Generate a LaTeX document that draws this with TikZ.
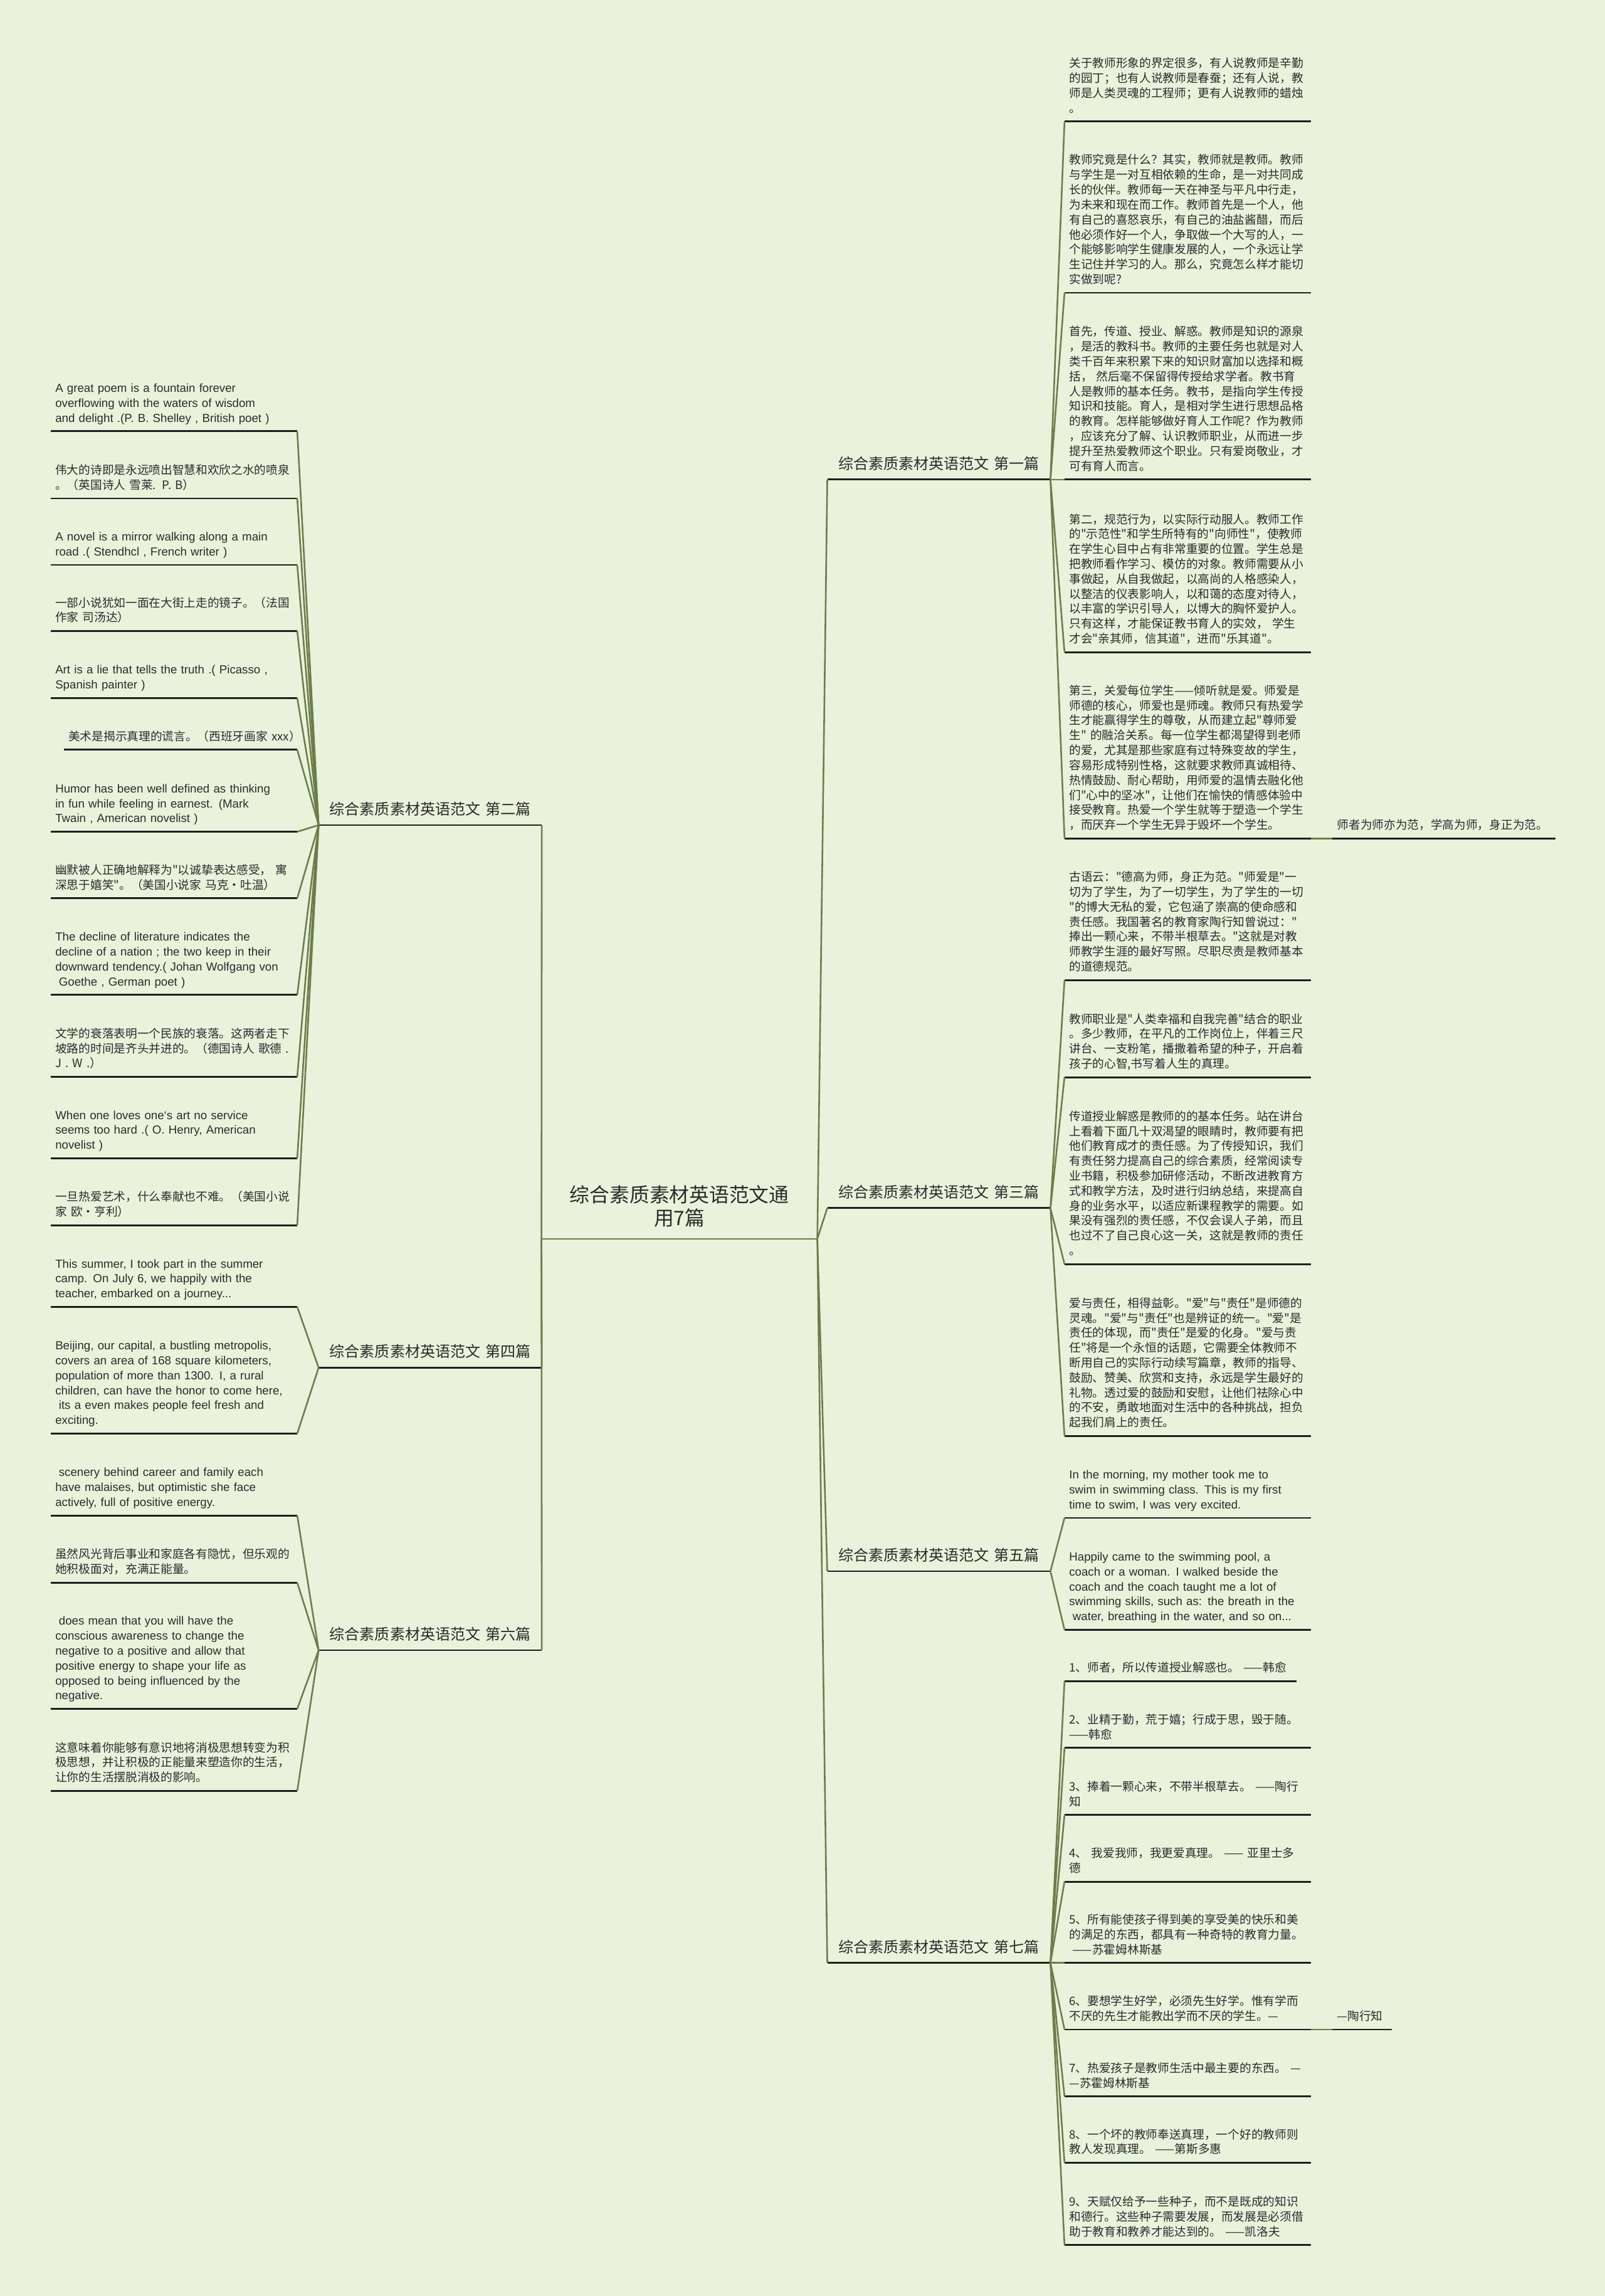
\documentclass[tikz,border=0pt]{standalone}
\usepackage{fontspec}
\setmainfont{Noto Sans CJK SC}[Ligatures=TeXOff]
\newfontfamily\enfont{Liberation Sans}
\definecolor{bgc}{HTML}{E8F3DC}
\definecolor{linkc}{HTML}{6B7D4A}
\definecolor{rulec}{HTML}{1E1E1E}
\definecolor{txtc}{HTML}{2B2B2B}
\begin{document}
\begin{tikzpicture}[x=1pt,y=-1pt,
  rule/.style={draw=rulec, line width=1.2pt},
  link/.style={draw=linkc, line width=1.1pt},
  root/.style={anchor=south, text width=176pt, align=center, inner xsep=6pt, inner ysep=4pt,
    text=txtc, font=\fontsize{13.6}{16}\selectfont, execute at end node=\strut,
    append after command={(\tikzlastnode.south west) edge[link] (\tikzlastnode.south east)}},
  branch/.style={text width=140pt, align=center, inner xsep=6pt, inner ysep=3pt,
    text=txtc, font=\fontsize{10.3}{13}\selectfont, execute at end node=\strut,
    append after command={(\tikzlastnode.south west) edge[rule] (\tikzlastnode.south east)}},
  leaf/.style={anchor=south west, text width=162pt, align=left, inner xsep=3pt, inner ysep=3pt,
    text=txtc, font=\fontsize{8}{10.2}\selectfont, execute at end node=\strut,
    append after command={(\tikzlastnode.south west) edge[rule] (\tikzlastnode.south east)}},
  leafl/.style={leaf, anchor=south east},
  en/.style={font=\enfont\fontsize{8}{10.2}\selectfont}]
\fill[bgc] (0,0) rectangle (1096,1568);
\useasboundingbox (0,0) rectangle (1096,1568);

% centre
\node[root] (root) at (464,846) {综合素质素材英语范文通\\用7篇};

% branches
\node[branch, anchor=south west] (b1) at (565,327.5) {综合素质素材英语范文 第一篇};
\node[branch, anchor=south west] (b3) at (565,825) {综合素质素材英语范文 第三篇};
\node[branch, anchor=south west] (b5) at (565,1073) {综合素质素材英语范文 第五篇};
\node[branch, anchor=south west] (b7) at (565,1340.5) {综合素质素材英语范文 第七篇};
\node[branch, anchor=south east] (b2) at (370,563.5) {综合素质素材英语范文 第二篇};
\node[branch, anchor=south east] (b4) at (370,934) {综合素质素材英语范文 第四篇};
\node[branch, anchor=south east] (b6) at (370,1127) {综合素质素材英语范文 第六篇};

% left leaves, 第二篇
\node[leafl, en] (l1) at (203,294.5) {A great poem is a fountain forever\\overflowing with the waters of wisdom\\and delight .(P. B. Shelley , British poet )};
\node[leafl] (l2) at (203,340.4) {伟大的诗即是永远喷出智慧和欢欣之水的喷泉\\。（英国诗人~雪莱. P. B）};
\node[leafl, en] (l3) at (203,385.8) {A novel is a mirror walking along a main\\road .( Stendhcl , French writer )};
\node[leafl] (l4) at (203,431) {一部小说犹如一面在大街上走的镜子。（法国\\作家~司汤达）};
\node[leafl, en] (l5) at (203,476.7) {Art is a lie that tells the truth .( Picasso ,\\Spanish painter )};
\node[leafl, text width=153pt] (l6) at (203,512) {美术是揭示真理的谎言。（西班牙画家~xxx）};
\node[leafl, en] (l7) at (203,568) {Humor has been well defined as thinking\\in fun while feeling in earnest. (Mark\\Twain , American novelist )};
\node[leafl] (l8) at (203,613.5) {幽默被人正确地解释为"以诚挚表达感受，~寓\\深思于嬉笑"。（美国小说家~马克·吐温）};
\node[leafl, en] (l9) at (203,679.4) {The decline of literature indicates the\\decline of a nation ; the two keep in their\\downward tendency.( Johan Wolfgang von\\\hspace*{0.3em}Goethe , German poet )};
\node[leafl] (l10) at (203,735.4) {文学的衰落表明一个民族的衰落。这两者走下\\坡路的时间是齐头并进的。（德国诗人~歌德~.\\J . W .）};
\node[leafl, en] (l11) at (203,791) {When one loves one‘s art no service\\seems too hard .( O. Henry, American\\novelist )};
\node[leafl] (l12) at (203,836.7) {一旦热爱艺术，什么奉献也不难。（美国小说\\家~欧·亨利）};

% left leaves, 第四篇
\node[leafl, en] (l13) at (203,892.5) {This summer, I took part in the summer\\camp. On July 6, we happily with the\\teacher, embarked on a journey...};
\node[leafl, en] (l14) at (203,979) {Beijing, our capital, a bustling metropolis,\\covers an area of 168 square kilometers,\\population of more than 1300. I, a rural\\children, can have the honor to come here,\\\hspace*{0.3em}its a even makes people feel fresh and\\exciting.};

% left leaves, 第六篇
\node[leafl, en] (l15) at (203,1035) {\hspace*{0.3em}scenery behind career and family each\\have malaises, but optimistic she face\\actively, full of positive energy.};
\node[leafl] (l16) at (203,1080.8) {虽然风光背后事业和家庭各有隐忧，但乐观的\\她积极面对，充满正能量。};
\node[leafl, en] (l17) at (203,1167) {\hspace*{0.3em}does mean that you will have the\\conscious awareness to change the\\negative to a positive and allow that\\positive energy to shape your life as\\opposed to being influenced by the\\negative.};
\node[leafl] (l18) at (203,1223) {这意味着你能够有意识地将消极思想转变为积\\极思想，并让积极的正能量来塑造你的生活，\\让你的生活摆脱消极的影响。};

% right leaves, 第一篇
\node[leaf] (r1) at (727,83) {关于教师形象的界定很多，有人说教师是辛勤\\的园丁；也有人说教师是春蚕；还有人说，教\\师是人类灵魂的工程师；更有人说教师的蜡烛\\。};
\node[leaf] (r2) at (727,200) {教师究竟是什么？其实，教师就是教师。教师\\与学生是一对互相依赖的生命，是一对共同成\\长的伙伴。教师每一天在神圣与平凡中行走，\\为未来和现在而工作。教师首先是一个人，他\\有自己的喜怒哀乐，有自己的油盐酱醋，而后\\他必须作好一个人，争取做一个大写的人，一\\个能够影响学生健康发展的人，一个永远让学\\生记住并学习的人。那么，究竟怎么样才能切\\实做到呢?};
\node[leaf] (r3) at (727,327.5) {首先，传道、授业、解惑。教师是知识的源泉\\，是活的教科书。教师的主要任务也就是对人\\类千百年来积累下来的知识财富加以选择和概\\括，~然后毫不保留得传授给求学者。教书育\\人是教师的基本任务。教书，是指向学生传授\\知识和技能。育人，是相对学生进行思想品格\\的教育。怎样能够做好育人工作呢？作为教师\\，应该充分了解、认识教师职业，从而进一步\\提升至热爱教师这个职业。只有爱岗敬业，才\\可有育人而言。};
\node[leaf] (r4) at (727,445.4) {第二，规范行为，以实际行动服人。教师工作\\的"示范性"和学生所特有的"向师性"，使教师\\在学生心目中占有非常重要的位置。学生总是\\把教师看作学习、模仿的对象。教师需要从小\\事做起，从自我做起，以高尚的人格感染人，\\以整洁的仪表影响人，以和蔼的态度对待人，\\以丰富的学识引导人，以博大的胸怀爱护人。\\只有这样，才能保证教书育人的实效，~学生\\才会"亲其师，信其道"，进而"乐其道"。};
\node[leaf] (r5) at (727,572.6) {第三，关爱每位学生——倾听就是爱。师爱是\\师德的核心，师爱也是师魂。教师只有热爱学\\生才能赢得学生的尊敬，从而建立起"尊师爱\\生"~的融洽关系。每一位学生都渴望得到老师\\的爱，尤其是那些家庭有过特殊变故的学生，\\容易形成特别性格，这就要求教师真诚相待、\\热情鼓励、耐心帮助，用师爱的温情去融化他\\们"心中的坚冰"，让他们在愉快的情感体验中\\接受教育。热爱一个学生就等于塑造一个学生\\，而厌弃一个学生无异于毁坏一个学生。};
\node[leaf, text width=146pt] (r5x) at (910,572.6) {师者为师亦为范，学高为师，身正为范。};

% right leaves, 第三篇
\node[leaf] (r6) at (727,669.3) {古语云："德高为师，身正为范。"师爱是"一\\切为了学生，为了一切学生，为了学生的一切\\"的博大无私的爱，它包涵了崇高的使命感和\\责任感。我国著名的教育家陶行知曾说过："\\捧出一颗心来，不带半根草去。"这就是对教\\师教学生涯的最好写照。尽职尽责是教师基本\\的道德规范。};
\node[leaf] (r7) at (727,735.7) {教师职业是"人类幸福和自我完善"结合的职业\\。多少教师，在平凡的工作岗位上，伴着三尺\\讲台、一支粉笔，播撒着希望的种子，开启着\\孩子的心智,书写着人生的真理。};
\node[leaf] (r8) at (727,863.3) {传道授业解惑是教师的的基本任务。站在讲台\\上看着下面几十双渴望的眼睛时，教师要有把\\他们教育成才的责任感。为了传授知识，我们\\有责任努力提高自己的综合素质，经常阅读专\\业书籍，积极参加研修活动，不断改进教育方\\式和教学方法，及时进行归纳总结，来提高自\\身的业务水平，以适应新课程教学的需要。如\\果没有强烈的责任感，不仅会误人子弟，而且\\也过不了自己良心这一关，这就是教师的责任\\。};
\node[leaf] (r9) at (727,980.7) {爱与责任，相得益彰。"爱"与"责任"是师德的\\灵魂。"爱"与"责任"也是辨证的统一。"爱"是\\责任的体现，而"责任"是爱的化身。"爱与责\\任"将是一个永恒的话题，它需要全体教师不\\断用自己的实际行动续写篇章，教师的指导、\\鼓励、赞美、欣赏和支持，永远是学生最好的\\礼物。透过爱的鼓励和安慰，让他们祛除心中\\的不安，勇敢地面对生活中的各种挑战，担负\\起我们肩上的责任。};

% right leaves, 第五篇
\node[leaf, en] (r10) at (727,1036.6) {In the morning, my mother took me to\\swim in swimming class. This is my first\\time to swim, I was very excited.};
\node[leaf, en] (r11) at (727,1113) {Happily came to the swimming pool, a\\coach or a woman. I walked beside the\\coach and the coach taught me a lot of\\swimming skills, such as: the breath in the\\\hspace*{0.3em}water, breathing in the water, and so on...};

% right leaves, 第七篇
\node[leaf, text width=152pt] (r12) at (727,1148) {1、师者，所以传道授业解惑也。~——韩愈};
\node[leaf] (r13) at (727,1193.6) {2、业精于勤，荒于嬉；行成于思，毁于随。\\——韩愈};
\node[leaf] (r14) at (727,1239.5) {3、捧着一颗心来，不带半根草去。~——陶行\\知};
\node[leaf] (r15) at (727,1285) {4、~我爱我师，我更爱真理。~——~亚里士多\\德};
\node[leaf] (r16) at (727,1340.5) {5、所有能使孩子得到美的享受美的快乐和美\\的满足的东西，都具有一种奇特的教育力量。\\\hspace*{0.3em}——苏霍姆林斯基};
\node[leaf] (r17) at (727,1386) {6、要想学生好学，必须先生好学。惟有学而\\不厌的先生才能教出学而不厌的学生。—};
\node[leaf, text width=34pt] (r17x) at (910,1386) {—陶行知};
\node[leaf] (r18) at (727,1431.7) {7、热爱孩子是教师生活中最主要的东西。~—\\—苏霍姆林斯基};
\node[leaf] (r19) at (727,1477) {8、一个坏的教师奉送真理，一个好的教师则\\教人发现真理。~——第斯多惠};
\node[leaf] (r20) at (727,1533.2) {9、天赋仅给予一些种子，而不是既成的知识\\和德行。这些种子需要发展，而发展是必须借\\助于教育和教养才能达到的。~——凯洛夫};

% centre to branches
\draw[link] (root.south east) -- (b1.south west);
\draw[link] (root.south east) -- (b3.south west);
\draw[link] (root.south east) -- (b5.south west);
\draw[link] (root.south east) -- (b7.south west);
\draw[link] (root.south west) -- (b2.south east);
\draw[link] (root.south west) -- (b4.south east);
\draw[link] (root.south west) -- (b6.south east);

% branches to leaves
\draw[link] (b2.south west) -- (l1.south east);
\draw[link] (b2.south west) -- (l2.south east);
\draw[link] (b2.south west) -- (l3.south east);
\draw[link] (b2.south west) -- (l4.south east);
\draw[link] (b2.south west) -- (l5.south east);
\draw[link] (b2.south west) -- (l6.south east);
\draw[link] (b2.south west) -- (l7.south east);
\draw[link] (b2.south west) -- (l8.south east);
\draw[link] (b2.south west) -- (l9.south east);
\draw[link] (b2.south west) -- (l10.south east);
\draw[link] (b2.south west) -- (l11.south east);
\draw[link] (b2.south west) -- (l12.south east);
\draw[link] (b4.south west) -- (l13.south east);
\draw[link] (b4.south west) -- (l14.south east);
\draw[link] (b6.south west) -- (l15.south east);
\draw[link] (b6.south west) -- (l16.south east);
\draw[link] (b6.south west) -- (l17.south east);
\draw[link] (b6.south west) -- (l18.south east);
\draw[link] (b1.south east) -- (r1.south west);
\draw[link] (b1.south east) -- (r2.south west);
\draw[link] (b1.south east) -- (r3.south west);
\draw[link] (b1.south east) -- (r4.south west);
\draw[link] (b1.south east) -- (r5.south west);
\draw[link] (r5.south east) -- (r5x.south west);
\draw[link] (b3.south east) -- (r6.south west);
\draw[link] (b3.south east) -- (r7.south west);
\draw[link] (b3.south east) -- (r8.south west);
\draw[link] (b3.south east) -- (r9.south west);
\draw[link] (b5.south east) -- (r10.south west);
\draw[link] (b5.south east) -- (r11.south west);
\draw[link] (b7.south east) -- (r12.south west);
\draw[link] (b7.south east) -- (r13.south west);
\draw[link] (b7.south east) -- (r14.south west);
\draw[link] (b7.south east) -- (r15.south west);
\draw[link] (b7.south east) -- (r16.south west);
\draw[link] (b7.south east) -- (r17.south west);
\draw[link] (r17.south east) -- (r17x.south west);
\draw[link] (b7.south east) -- (r18.south west);
\draw[link] (b7.south east) -- (r19.south west);
\draw[link] (b7.south east) -- (r20.south west);
\end{tikzpicture}
\end{document}
